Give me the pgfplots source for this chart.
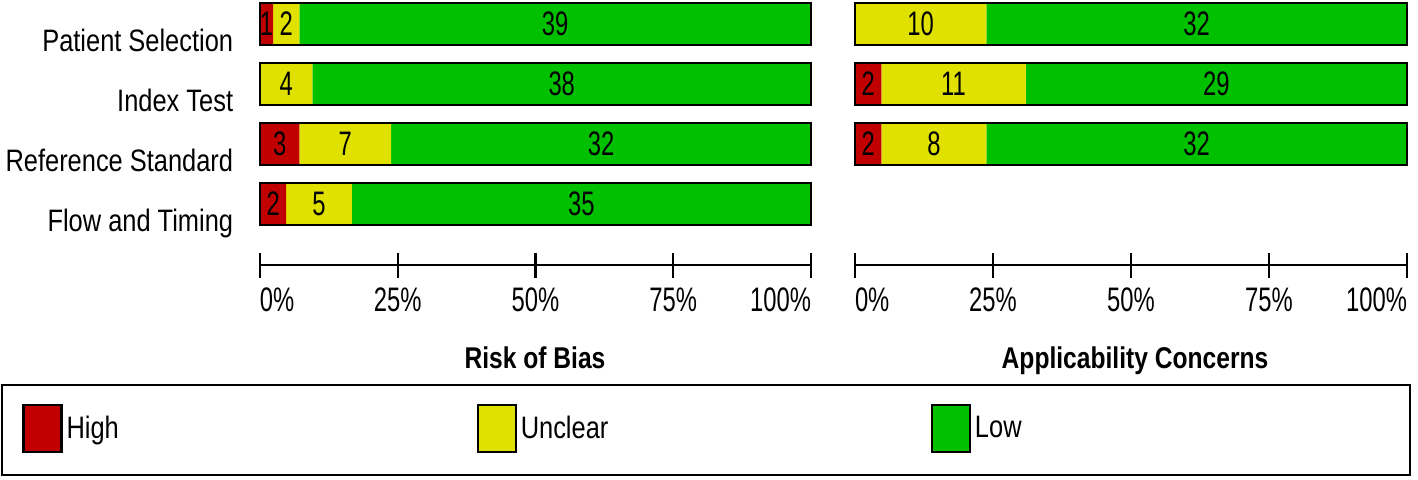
\documentclass[border=0pt]{standalone}
\usepackage{fontspec}
\setmainfont{Liberation Sans}[FakeStretch=0.82]
\newfontfamily\numfont{Liberation Sans}[FakeStretch=0.7]
\usepackage{pgfplots}
\pgfplotsset{compat=1.18}
\definecolor{rbhigh}{RGB}{192,0,0}
\definecolor{rbunc}{RGB}{225,225,0}
\definecolor{rblow}{RGB}{0,192,0}
\newcommand{\labfont}{\fontsize{15.5}{18}\selectfont}
\newcommand{\tickfont}{\numfont\fontsize{17}{20}\selectfont}
\pgfplotsset{
 rbbase/.style={
  scale only axis, height=132.5pt,
  xmin=0, xmax=42, ymin=0, ymax=265, y dir=reverse,
  axis x line=bottom, axis y line=left,
  x axis line style={-, line width=1.1pt},
  y axis line style={draw=none},
  xtick={0,10.5,21,31.5,42},
  xticklabels={\makebox[0pt][l]{0\%},25\%,50\%,75\%,\makebox[0pt][r]{100\%}},
  xtick style={line width=1.1pt, black},
  tick align=center, major tick length=12.5pt,
  xticklabel style={font=\tickfont, anchor=base, yshift=-17pt},
  ytick style={draw=none},
  clip=false,
 },
 rbbars/.style={
  xbar stacked, bar width=20.8pt, point meta=explicit symbolic,
  nodes near coords={\ifnum\pgfplotspointmeta>0 \pgfplotspointmeta\fi},
  every node near coord/.append style={anchor=center, font=\tickfont, text=black},
 },
 rbout/.style={
  rbbase, hide axis,
 },
}
\begin{document}
\begin{tikzpicture}
\useasboundingbox (0pt,0pt) rectangle (709pt,-239.5pt);
% ---------- Risk of Bias ----------
\begin{axis}[rbbase, rbbars, width=275.5pt, at={(130pt,0pt)}, anchor=north west,
  ytick={24,84,144,204},
  yticklabels={Patient Selection,Index Test,Reference Standard,Flow and Timing},
  yticklabel style={font=\labfont, anchor=base east, inner sep=0pt, xshift=-7pt, yshift=-13.5pt},
  legend columns=3,
  legend image code/.code={\draw[#1, draw=black, line width=1.1pt] (0pt,-11.75pt) rectangle (19pt,11.75pt);},
  legend style={at={(axis description cs:-0.43194,-0.61698)}, anchor=west, draw=none, fill=none,
    inner sep=0pt, font=\labfont, nodes={inner sep=0pt},
    /tikz/every odd column/.append style={column sep=2pt},
    /tikz/every even column/.append style={column sep=45pt, text width=160pt}},
]
\addplot[fill=rbhigh, draw=none] coordinates {(1,24) [1] (0,84) [0] (3,144) [3] (2,204) [2]};
\addplot[fill=rbunc, draw=none] coordinates {(2,24) [2] (4,84) [4] (7,144) [7] (5,204) [5]};
\addplot[fill=rblow, draw=none] coordinates {(39,24) [39] (38,84) [38] (32,144) [32] (35,204) [35]};
\legend{High,Unclear,Low}
\end{axis}
\begin{axis}[rbout, width=275.5pt, at={(130pt,0pt)}, anchor=north west]
\addplot[xbar, bar width=20.9pt, fill=none, draw=black, line width=1.1pt]
  coordinates {(42,24) (42,84) (42,144) (42,204)};
\end{axis}
% ---------- Applicability Concerns ----------
\begin{axis}[rbbase, rbbars, width=276pt, at={(427.5pt,0pt)}, anchor=north west, ytick=\empty]
\addplot[fill=rbhigh, draw=none] coordinates {(0,24) [0] (2,84) [2] (2,144) [2]};
\addplot[fill=rbunc, draw=none] coordinates {(10,24) [10] (11,84) [11] (8,144) [8]};
\addplot[fill=rblow, draw=none] coordinates {(32,24) [32] (29,84) [29] (32,144) [32]};
\end{axis}
\begin{axis}[rbout, width=276pt, at={(427.5pt,0pt)}, anchor=north west]
\addplot[xbar, bar width=20.9pt, fill=none, draw=black, line width=1.1pt]
  coordinates {(42,24) (42,84) (42,144)};
\end{axis}
% ---------- titles and legend frame ----------
\node[anchor=base, font=\bfseries\fontsize{15}{18}\selectfont] at (267.5pt,-184pt) {Risk of Bias};
\node[anchor=base, font=\bfseries\fontsize{15}{18}\selectfont] at (567.5pt,-184pt) {Applicability Concerns};
\draw[line width=1pt] (1pt,-192.5pt) rectangle (705pt,-237.5pt);
\end{tikzpicture}
\end{document}
